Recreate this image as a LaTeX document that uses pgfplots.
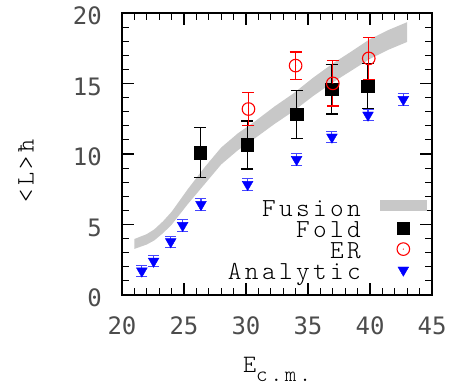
\documentclass[border=0pt]{standalone}
\usepackage{pgfplots}
\pgfplotsset{compat=1.18}
\usepackage{fontspec}
\setmainfont{Latin Modern Mono Light}[LetterSpace=13]
\newfontfamily\tickfont{DejaVu Sans Mono}
\definecolor{bandgray}{RGB}{200,200,200}
\definecolor{abar}{RGB}{70,70,255}
\pgfdeclareplotmark{odot}{%
  \pgfpathcircle{\pgfpointorigin}{\pgfplotmarksize}\pgfusepathqstroke
  \pgfpathcircle{\pgfpointorigin}{0.6bp}\pgfusepathqfill}
\begin{document}
\begin{tikzpicture}
\begin{axis}[
  scale only axis, width=310bp, height=282bp,
  xmin=20, xmax=45, ymin=0, ymax=20,
  xtick={20,25,...,45}, ytick={0,5,...,20},
  minor x tick num=4, minor y tick num=4,
  tick align=inside, tick pos=both,
  major tick length=12bp, minor tick length=7bp,
  axis line style={line width=1.8bp},
  every tick/.style={black, line width=1.1bp},
  /pgf/number format/assume math mode=true,
  tick label style={font=\tickfont\fontsize{24bp}{24bp}\selectfont, text=black!70, inner sep=0pt},
  xticklabel style={anchor=base, yshift=-39bp},
  yticklabel style={anchor=east, xshift=-20bp, yshift=-3bp},
  xlabel={E\raisebox{-9bp}{\fontsize{22bp}{22bp}\selectfont c.m.}},
  xlabel style={at={(rel axis cs:0.5,0)}, anchor=base, yshift=-77.7bp, inner sep=0pt, font=\fontsize{25bp}{25bp}\selectfont},
  ylabel={<L>ħ},
  ylabel style={at={(rel axis cs:-0.3097,0.44)}, anchor=center, inner sep=0pt, font=\fontsize{25bp}{25bp}\selectfont},
  legend plot pos=right,
  legend cell align=right,
  legend style={at={(rel axis cs:0.984,0.347)}, anchor=north east, draw=none, fill=none,
    inner sep=0pt, row sep=1.5bp, column sep=19bp,
    font=\fontsize{26bp}{26bp}\selectfont,
    nodes={inner sep=0pt, text height=19bp, text depth=0.5bp}},
]
\addplot[fill=bandgray, draw=none,
  legend image code/.code={\fill[bandgray] (-15bp,-4.3bp) rectangle (32bp,7.3bp);}]
coordinates {
(21.0,3.97) (22.0,4.32) (22.6,4.65) (23.3,5.22) (24.0,5.9) (25.3,7.5)
(26.7,9.1) (28.0,10.46) (29.35,11.47) (30.7,12.3) (32.3,13.37) (33.8,14.28)
(35.4,15.4) (37.0,16.42) (38.6,17.33) (40.0,18.15) (41.5,18.8) (43.0,19.35)
(43.0,17.95) (41.5,17.4) (40.0,16.75) (38.6,15.97) (37.0,15.08) (35.4,14.1)
(33.8,13.02) (32.3,12.13) (30.7,11.1) (29.35,10.27) (28.0,9.26) (26.7,7.9)
(25.3,6.44) (24.0,4.98) (23.3,4.38) (22.6,3.87) (22.0,3.58) (21.0,3.27)
};
\addlegendentry{Fusion}
\addplot[only marks, mark=square*, mark size=6.3bp, black,
  error bars/.cd, y dir=both, y explicit,
  error bar style={black, line width=1.2bp},
  error mark options={rotate=90, mark size=6bp, line width=1.2bp}]
coordinates {
(26.3,10.1) +- (0,1.76)
(30.1,10.64) +- (0,1.7)
(34.1,12.81) +- (0,1.7)
(36.9,14.59) +- (0,1.75)
(39.8,14.82) +- (0,1.6)
};
\addlegendentry{Fold}
\addplot[only marks, mark=odot, mark size=6.3bp, red, mark options={line width=1.1bp, fill=red},
  error bars/.cd, y dir=both, y explicit,
  error bar style={red, line width=1.2bp},
  error mark options={rotate=90, mark size=6bp, line width=1.2bp}]
coordinates {
(30.2,13.19) +- (0,1.15)
(34.0,16.27) +- (0,0.97)
(37.0,15.01) +- (0,1.6)
(39.9,16.78) +- (0,1.5)
};
\addlegendentry{ER}
\addplot[only marks, mark=triangle*, mark size=6.2bp, blue, mark options={rotate=180},
  error bars/.cd, y dir=both, y explicit,
  error bar style={abar, line width=1.1bp},
  error mark options={rotate=90, mark size=5.5bp, line width=1.1bp}]
coordinates {
(21.6,1.7) +- (0,0.4)
(22.55,2.4) +- (0,0.4)
(23.93,3.78) +- (0,0.4)
(24.89,4.93) +- (0,0.4)
(26.37,6.42) +- (0,0.4)
(30.13,7.84) +- (0,0.4)
(34.08,9.61) +- (0,0.4)
(36.93,11.2) +- (0,0.4)
(39.84,12.76) +- (0,0.4)
(42.69,13.87) +- (0,0.4)
};
\addlegendentry{Analytic}
\coordinate (o) at (rel axis cs:0,0);
\end{axis}
\path ([shift={(-122bp,-92bp)}]o) rectangle ++(457bp,387bp);
\end{tikzpicture}
\end{document}
